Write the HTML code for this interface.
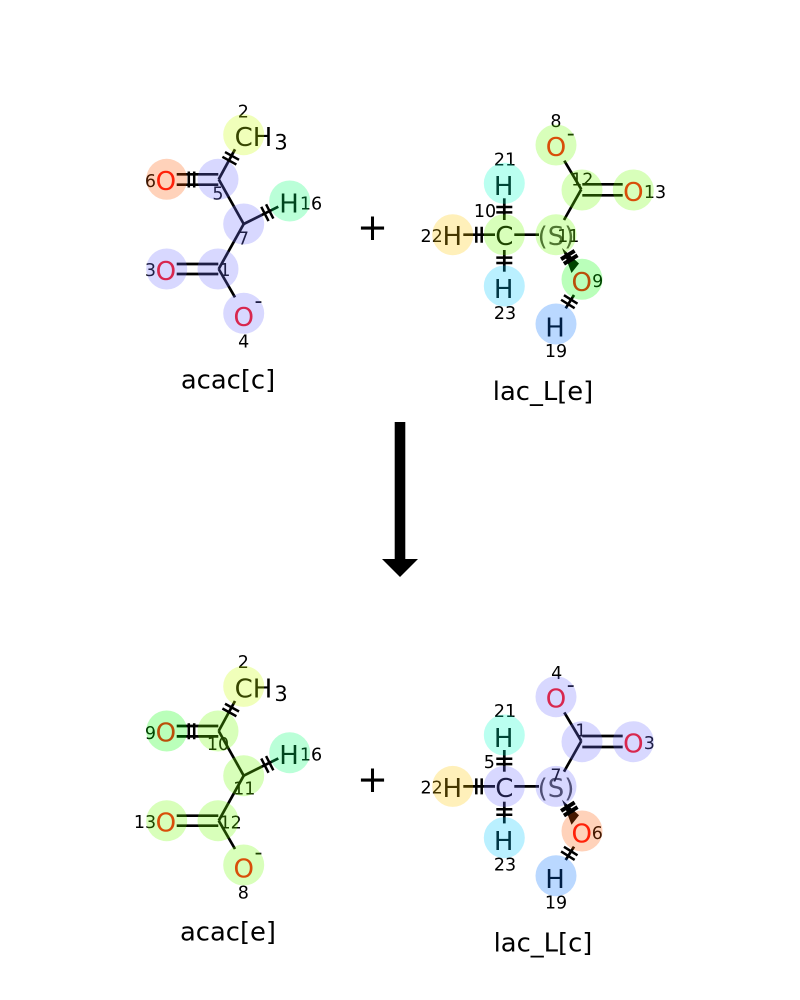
<!DOCTYPE html>
<html>
<head>
<meta charset="utf-8">
<style>
html,body{margin:0;padding:0;background:#fff;}
svg{display:block;}
text{font-family:"DejaVu Sans","Liberation Sans",sans-serif;text-anchor:middle;}
.a{font-size:26px;transform:translateY(.8px);}
.n{font-size:17.5px;transform:translateY(.4px);}
.s{font-size:21px;}
.m{font-size:22px;}
.l{font-size:25.8px;}
.r{fill:#ff0d0d;}
.g{fill:#444;}
.b line,.b path{stroke:#000;stroke-width:2.7;fill:none;}
.t{stroke:#000;stroke-width:2.5;fill:none;}
.k{stroke:#000;stroke-width:4;fill:none;}
</style>
</head>
<body>
<svg width="800" height="1000" viewBox="0 0 800 1000" xmlns="http://www.w3.org/2000/svg">
<defs>
<path id="t" class="t" d="M-2.7 -8V8M2.7 -8V8"/>
<path id="k" class="k" d="M-2.7 -8V8M2.7 -8V8"/>
<g id="bonds1" class="b">
<line x1="235" y1="149.3" x2="218.7" y2="179.3"/>
<line x1="176.7" y1="174.3" x2="218.3" y2="174.3"/>
<line x1="176.7" y1="184.7" x2="218.3" y2="184.7"/>
<line x1="218.7" y1="179.3" x2="243.7" y2="224"/>
<line x1="243.7" y1="224" x2="278.3" y2="206.7"/>
<line x1="243.7" y1="224" x2="218.7" y2="269"/>
<line x1="176.7" y1="264" x2="218.3" y2="264"/>
<line x1="176.7" y1="274" x2="218.3" y2="274"/>
<line x1="218.7" y1="269" x2="235" y2="297.3"/>
<use href="#t" transform="translate(230.7 158.3) rotate(-61)"/>
<use href="#t" transform="translate(191.5 179.5)"/>
<use href="#t" transform="translate(267.3 212.7) rotate(-27)"/>
</g>
<g id="bonds2" class="b">
<line x1="564.3" y1="160.7" x2="581.3" y2="189.3"/>
<line x1="582.3" y1="184.3" x2="622.7" y2="184.3"/>
<line x1="582.3" y1="195.3" x2="622.7" y2="195.3"/>
<line x1="581.3" y1="189.3" x2="564" y2="220"/>
<line x1="504.3" y1="198.3" x2="504.3" y2="220"/>
<line x1="463.3" y1="234.7" x2="495" y2="234.7"/>
<line x1="514.3" y1="234.7" x2="539" y2="234.7"/>
<line x1="504.3" y1="250" x2="504.3" y2="271.7"/>
<line x1="574" y1="295" x2="565.7" y2="308.3"/>
<path d="M562 248L579 263.5L571.5 273Z" style="fill:#000;stroke:none"/>
<use href="#t" transform="translate(504.3 209.7) rotate(90)"/>
<use href="#t" transform="translate(479 234.7)"/>
<use href="#t" transform="translate(504.3 260.3) rotate(90)"/>
<use href="#k" transform="translate(569.3 257.3) rotate(58)"/>
<use href="#t" transform="translate(569.3 301.7) rotate(-58)"/>
</g>
</defs>

<!-- Top left molecule -->
<use href="#bonds1"/>
<text class="a" x="253.5" y="145">CH</text>
<text class="s" x="281" y="149.5">3</text>
<text class="a r" x="165.8" y="189">O</text>
<text class="a" x="289" y="211.5">H</text>
<text class="a r" x="165.8" y="279">O</text>
<text class="a r" x="243.7" y="325">O</text>
<text class="m" x="258.5" y="308">-</text>
<text class="n" x="243.3" y="117">2</text>
<text class="n" x="150.5" y="186.5">6</text>
<text class="n" x="218" y="199">5</text>
<text class="n" x="311" y="209">16</text>
<text class="n" x="243.5" y="244">7</text>
<text class="n" x="150.5" y="275.5">3</text>
<text class="n" x="225" y="275.5">1</text>
<text class="n" x="243.7" y="347">4</text>
<circle cx="243.7" cy="134.7" r="20.5" fill="rgba(200,255,0,.27)"/>
<circle cx="166.7" cy="179.3" r="20.5" fill="rgba(255,89,0,.27)"/>
<circle cx="218" cy="179.3" r="20.5" fill="rgba(110,110,255,.27)"/>
<circle cx="289.7" cy="201" r="20.5" fill="rgba(0,255,110,.27)"/>
<circle cx="243.7" cy="224" r="20.5" fill="rgba(110,110,255,.27)"/>
<circle cx="166.7" cy="269" r="20.5" fill="rgba(110,110,255,.27)"/>
<circle cx="218" cy="269" r="20.5" fill="rgba(110,110,255,.27)"/>
<circle cx="243.7" cy="313.3" r="20.5" fill="rgba(110,110,255,.27)"/>
<text class="l" x="228" y="388.5">acac[c]</text>

<!-- Top right molecule -->
<use href="#bonds2"/>
<text class="a r" x="556" y="155">O</text>
<text class="m" x="570.7" y="140.5">-</text>
<text class="a r" x="633.3" y="200">O</text>
<text class="a" x="503.7" y="194.3">H</text>
<text class="a" x="452.3" y="244.3">H</text>
<text class="a" x="504.3" y="244.3">C</text>
<text class="a g" x="556" y="244.3">(S)</text>
<text class="a r" x="581.7" y="290">O</text>
<text class="a" x="503.7" y="297.3">H</text>
<text class="a" x="555" y="335.7">H</text>
<text class="n" x="556" y="126.7">8</text>
<text class="n" x="582.3" y="185">12</text>
<text class="n" x="655" y="197.5">13</text>
<text class="n" x="505" y="165">21</text>
<text class="n" x="485" y="216.5">10</text>
<text class="n" x="431.7" y="241.5">22</text>
<text class="n" x="568.3" y="241.5">11</text>
<text class="n" x="597.7" y="286.5">9</text>
<text class="n" x="505" y="318.5">23</text>
<text class="n" x="556" y="356.5">19</text>
<circle cx="556" cy="145" r="20.5" fill="rgba(110,255,0,.27)"/>
<circle cx="582" cy="190" r="20.5" fill="rgba(110,255,0,.27)"/>
<circle cx="633.3" cy="190" r="20.5" fill="rgba(110,255,0,.27)"/>
<circle cx="504.3" cy="183.3" r="20.5" fill="rgba(0,255,200,.27)"/>
<circle cx="452.7" cy="234.7" r="20.5" fill="rgba(255,200,0,.27)"/>
<circle cx="504.3" cy="234.7" r="20.5" fill="rgba(110,255,0,.27)"/>
<circle cx="556" cy="234.7" r="20.5" fill="rgba(110,255,0,.27)"/>
<circle cx="582" cy="279.3" r="20.5" fill="rgba(0,255,0,.27)"/>
<circle cx="504.3" cy="286" r="20.5" fill="rgba(0,200,255,.27)"/>
<circle cx="556" cy="324" r="20.5" fill="rgba(0,110,255,.27)"/>
<text class="l" x="543" y="400">lac_L[e]</text>

<text x="372.5" y="240" style="font-size:37px">+</text>
<text x="372.5" y="792" style="font-size:37px">+</text>

<!-- Arrow -->
<rect x="394.7" y="422" width="10.6" height="138" fill="#000"/>
<path d="M382 559H418L400 577Z" fill="#000"/>

<!-- Bottom left molecule -->
<use href="#bonds1" y="551.7"/>
<text class="a" x="253.5" y="696.7">CH</text>
<text class="s" x="281" y="701.2">3</text>
<text class="a r" x="165.8" y="740.7">O</text>
<text class="a" x="289" y="763.2">H</text>
<text class="a r" x="165.8" y="830.7">O</text>
<text class="a r" x="243.7" y="876.7">O</text>
<text class="m" x="258.5" y="859.7">-</text>
<text class="n" x="243.3" y="667.5">2</text>
<text class="n" x="150.5" y="738.5">9</text>
<text class="n" x="218" y="749.8">10</text>
<text class="n" x="311" y="760">16</text>
<text class="n" x="244.3" y="794">11</text>
<text class="n" x="145" y="827.5">13</text>
<text class="n" x="230.7" y="828">12</text>
<text class="n" x="243.3" y="898">8</text>
<circle cx="243.7" cy="686.4" r="20.5" fill="rgba(200,255,0,.27)"/>
<circle cx="166.7" cy="731" r="20.5" fill="rgba(0,255,0,.27)"/>
<circle cx="218" cy="731" r="20.5" fill="rgba(110,255,0,.27)"/>
<circle cx="289.7" cy="752.7" r="20.5" fill="rgba(0,255,110,.27)"/>
<circle cx="243.7" cy="775.7" r="20.5" fill="rgba(110,255,0,.27)"/>
<circle cx="166.7" cy="820.7" r="20.5" fill="rgba(110,255,0,.27)"/>
<circle cx="218" cy="820.7" r="20.5" fill="rgba(110,255,0,.27)"/>
<circle cx="243.7" cy="865" r="20.5" fill="rgba(110,255,0,.27)"/>
<text class="l" x="228" y="940.5">acac[e]</text>

<!-- Bottom right molecule -->
<use href="#bonds2" y="551.7"/>
<text class="a r" x="556" y="706.7">O</text>
<text class="m" x="570.7" y="692">-</text>
<text class="a r" x="633.3" y="751.7">O</text>
<text class="a" x="503.7" y="746">H</text>
<text class="a" x="452.3" y="796">H</text>
<text class="a" x="504.3" y="796">C</text>
<text class="a g" x="556" y="796">(S)</text>
<text class="a r" x="581.7" y="841.7">O</text>
<text class="a" x="503.7" y="849">H</text>
<text class="a" x="555" y="887.4">H</text>
<text class="n" x="556.7" y="678.5">4</text>
<text class="n" x="581" y="736">1</text>
<text class="n" x="649.3" y="748.5">3</text>
<text class="n" x="489.3" y="767.5">5</text>
<text class="n" x="505" y="716.7">21</text>
<text class="n" x="431.7" y="793.2">22</text>
<text class="n" x="556" y="781">7</text>
<text class="n" x="597.3" y="838.5">6</text>
<text class="n" x="505" y="870.2">23</text>
<text class="n" x="556" y="908.2">19</text>
<circle cx="556" cy="696.7" r="20.5" fill="rgba(110,110,255,.27)"/>
<circle cx="582" cy="741.7" r="20.5" fill="rgba(110,110,255,.27)"/>
<circle cx="633.3" cy="741.7" r="20.5" fill="rgba(110,110,255,.27)"/>
<circle cx="504.3" cy="735" r="20.5" fill="rgba(0,255,200,.27)"/>
<circle cx="452.7" cy="786.4" r="20.5" fill="rgba(255,200,0,.27)"/>
<circle cx="504.3" cy="786.4" r="20.5" fill="rgba(110,110,255,.27)"/>
<circle cx="556" cy="786.4" r="20.5" fill="rgba(110,110,255,.27)"/>
<circle cx="582" cy="831" r="20.5" fill="rgba(255,89,0,.27)"/>
<circle cx="504.3" cy="837.7" r="20.5" fill="rgba(0,200,255,.27)"/>
<circle cx="556" cy="875.7" r="20.5" fill="rgba(0,110,255,.27)"/>
<text class="l" x="543" y="951.5">lac_L[c]</text>
</svg>
</body>
</html>
